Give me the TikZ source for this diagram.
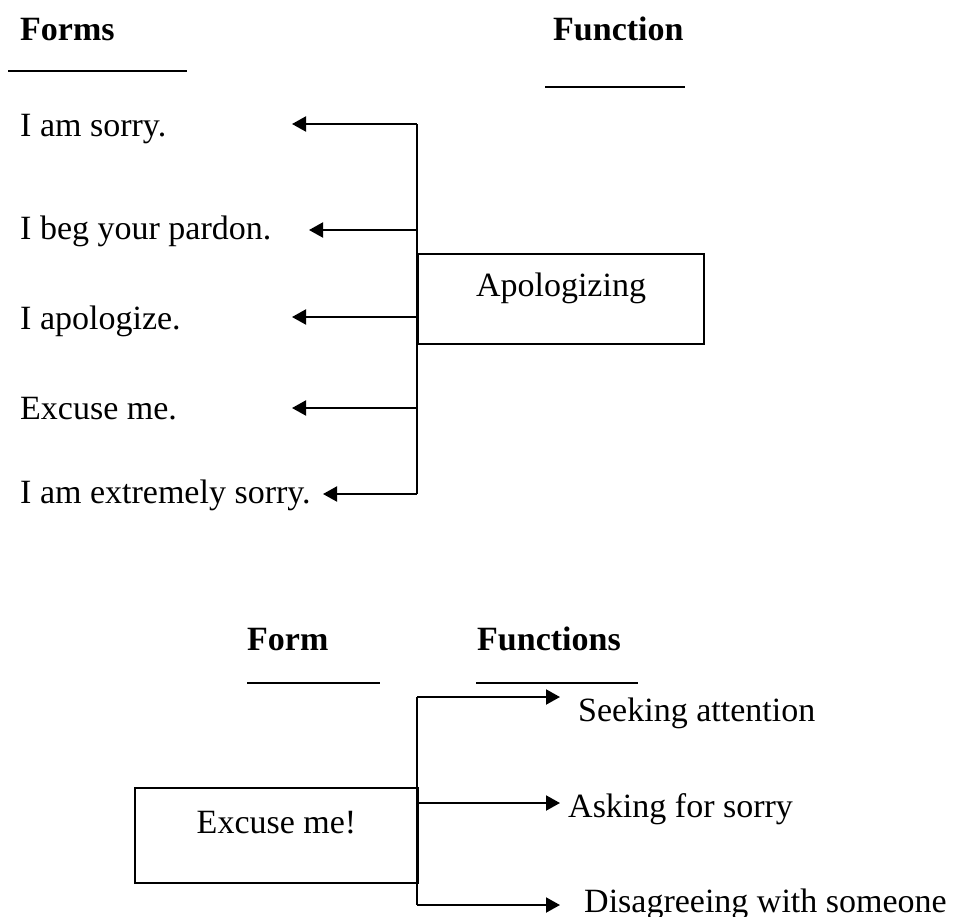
\documentclass[tikz,border=0pt]{standalone}
\usepackage{amsmath}
\usepackage{amssymb}
\usepackage{fontspec}
\setmainfont{Liberation Serif}
\usepackage{tikz}
\usetikzlibrary{positioning}
\usetikzlibrary{arrows.meta}

\begin{document}
\begin{tikzpicture}[x=1pt,y=-1pt,
  every node/.style={inner sep=0pt,font=\fontsize{34}{40}\selectfont},
  head/.style={anchor=base west,font=\fontsize{34}{40}\selectfont\bfseries},
  form/.style={anchor=base west},
  rule/.style={line width=2pt},
  link/.style={line width=2pt},
  tip/.style={line width=2pt,-{Triangle[length=14pt,width=15pt]}},
  fbox/.style={draw,line width=2pt,anchor=north west,text height=23pt}]
\useasboundingbox (0,0) rectangle (963,916);

% forms -> function
\node[head] (forms) at (20,40) {Forms};
\node[head] (function) at (553,40) {Function};
\coordinate (ul1a) at (8,71);   \coordinate (ul1b) at (187,71);
\coordinate (ul2a) at (545,87); \coordinate (ul2b) at (685,87);
\draw[rule] (ul1a) -- (ul1b);
\draw[rule] (ul2a) -- (ul2b);

\node[form] (sorry) at (20,136) {I am sorry.};
\node[form] (pardon) at (20,239) {I beg your pardon.};
\node[form] (apologize) at (20,329) {I apologize.};
\node[form] (excuse) at (20,419) {Excuse me.};
\node[form] (extreme) at (20,503) {I am extremely sorry.};

\node[fbox,minimum width=286pt,minimum height=90pt,text depth=29pt] (apol) at (417,253) {Apologizing};

\coordinate (s1) at (417,124);
\coordinate (s2) at (417,230);
\coordinate (s3) at (417,317);
\coordinate (s4) at (417,408);
\coordinate (s5) at (417,494);
\coordinate (t1) at (292,124);
\coordinate (t2) at (309,230);
\coordinate (t3) at (292,317);
\coordinate (t4) at (292,408);
\coordinate (t5) at (323,494);

\draw[link] (s1) -- (s5);
\path[tip]
  (s1) edge (t1)
  (s2) edge (t2)
  (s3) edge (t3)
  (s4) edge (t4)
  (s5) edge (t5);

% form -> functions
\node[head] (form) at (247,650) {Form};
\node[head] (functions) at (477,650) {Functions};
\coordinate (ul3a) at (247,683); \coordinate (ul3b) at (380,683);
\coordinate (ul4a) at (476,683); \coordinate (ul4b) at (638,683);
\draw[rule] (ul3a) -- (ul3b);
\draw[rule] (ul4a) -- (ul4b);

\node[fbox,minimum width=283pt,minimum height=95pt,text depth=28pt] (excl) at (134,787) {Excuse me!};

\coordinate (b1) at (417,697);
\coordinate (b2) at (417,803);
\coordinate (b3) at (417,905);
\coordinate (e1) at (560,697);
\coordinate (e2) at (560,803);
\coordinate (e3) at (560,905);

\draw[link] (b1) -- (b3);
\path[tip]
  (b1) edge (e1)
  (b2) edge (e2)
  (b3) edge (e3);

\node[form] (seek) at (578,721) {Seeking attention};
\node[form] (ask) at (568,817) {Asking for sorry};
\node[form] (disagree) at (584,912) {Disagreeing with someone};
\end{tikzpicture}
\end{document}
